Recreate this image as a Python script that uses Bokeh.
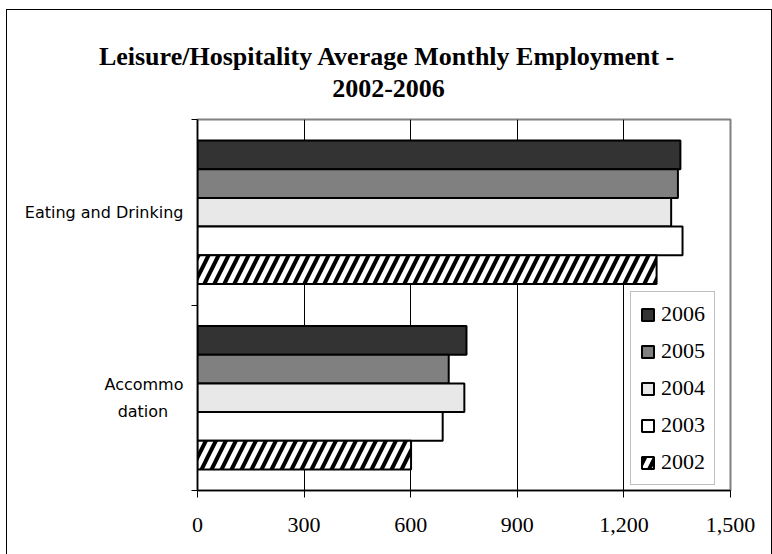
from bokeh.plotting import figure
from bokeh.models import (Range1d, FixedTicker, Legend, LegendItem, Title,
                          ColumnDataSource)
from bokeh.transform import dodge
from bokeh.embed import file_html
from bokeh.resources import INLINE

# ---------------- data ----------------
categories = ["Accommodation", "Eating and Drinking"]
category_labels = ["Accommo\ndation\u00a0\u00a0\u00a0", "Eating and Drinking"]
years = ["2006", "2005", "2004", "2003", "2002"]
values_2006 = [757, 1359]
values_2005 = [707, 1352]
values_2004 = [751, 1333]
values_2003 = [690, 1365]
values_2002 = [601, 1292]
x_ticks = [0, 300, 600, 900, 1200, 1500]
x_tick_labels = ["0", "300", "600", "900", "1,200", "1,500"]
title_line1 = "Leisure/Hospitality Average Monthly Employment -"
title_line2 = "2002-2006"

# ---------------- styles ----------------
fills = {"2006": "#333333", "2005": "#808080", "2004": "#e8e8e8",
         "2003": "#ffffff", "2002": "#ffffff"}
hatches = {"2006": None, "2005": None, "2004": None, "2003": None, "2002": "/"}
SERIF = "Liberation Serif"
SANS = "DejaVu Sans"

n = len(categories)
centers = [i + 0.5 for i in range(n)]
source = ColumnDataSource(data={
    "cat": categories, "pos": centers,
    "2006": values_2006, "2005": values_2005, "2004": values_2004,
    "2003": values_2003, "2002": values_2002,
})

border_css = """
:host::after {
  content: "";
  position: absolute;
  left: 6px; top: 9px; right: 0px; bottom: -20px;
  border: 1.5px solid black;
  pointer-events: none;
}
"""

p = figure(width=772, height=554, output_backend="svg", toolbar_location=None,
           y_range=Range1d(0, n), x_range=Range1d(x_ticks[0], x_ticks[-1]),
           min_border_left=197, min_border_right=42, min_border_top=119,
           min_border_bottom=64)
p.stylesheets = [border_css]
p.background_fill_color = "white"
p.border_fill_color = "white"
p.outline_line_color = "#808080"
p.outline_line_width = 2

# x axis
xt = FixedTicker(ticks=x_ticks)
p.xaxis.ticker = xt
p.xaxis.major_label_overrides = {t: l for t, l in zip(x_ticks, x_tick_labels)}
p.xaxis.axis_line_color = "black"
p.xaxis.axis_line_width = 1.5
p.xaxis.major_tick_line_color = "black"
p.xaxis.major_tick_out = 7
p.xaxis.major_tick_in = 0
p.xaxis.minor_tick_line_color = None
p.xaxis.major_label_text_font = SERIF
p.xaxis.major_label_text_font_size = "22px"
p.xaxis.major_label_text_color = "black"
p.xaxis.major_label_standoff = 20
p.xgrid.ticker = xt
p.xgrid.grid_line_color = "black"
p.xgrid.grid_line_width = 1
p.ygrid.visible = False

# y axis: category bands (labels at band centres, ticks at band boundaries)
yaxis = p.yaxis[0]
yaxis.ticker = FixedTicker(ticks=centers, minor_ticks=list(range(n + 1)))
yaxis.major_label_overrides = {c: category_labels[i] for i, c in enumerate(centers)}
yaxis.axis_line_color = "black"
yaxis.axis_line_width = 1.5
yaxis.major_tick_line_color = None
yaxis.major_tick_out = 6
yaxis.major_tick_in = 0
yaxis.minor_tick_line_color = "black"
yaxis.minor_tick_out = 6
yaxis.minor_tick_in = 0
yaxis.major_label_text_font = SANS
yaxis.major_label_text_font_size = "16px"
yaxis.major_label_text_color = "black"
yaxis.major_label_text_line_height = 1.4
yaxis.major_label_standoff = 8

# bars
bar_h = 0.1546
renderers = {}
for k, yr in enumerate(years):
    off = (2 - k) * bar_h
    kw = {}
    if hatches[yr]:
        kw = dict(hatch_pattern=hatches[yr], hatch_color="black",
                  hatch_weight=4, hatch_scale=20)
    r = p.hbar(y=dodge("pos", off), left=0, right=yr,
               height=bar_h, source=source, fill_color=fills[yr],
               line_color="black", line_width=2, **kw)
    renderers[yr] = r

legend = Legend(items=[LegendItem(label=yr, renderers=[renderers[yr]]) for yr in years],
                location=(433, 5))
legend.label_text_font = SERIF
legend.label_text_font_size = "22px"
legend.label_text_color = "black"
legend.glyph_width = 15
legend.glyph_height = 15
legend.label_standoff = 6
legend.label_height = 22
legend.spacing = 11
legend.padding = 9
legend.margin = 0
legend.border_line_color = "#808080"
legend.border_line_width = 1.5
legend.background_fill_color = "white"
legend.background_fill_alpha = 1
p.add_layout(legend)

# spacer between the frame and the title block
p.add_layout(Title(text="\u00a0", standoff=4, text_font_size="12px"), "above")
# two-line title, centred on the whole chart (nearest line added first)
for txt, off, so in [(title_line2, 134.7, 6), (title_line1, -98.6, 8)]:
    p.add_layout(Title(text=txt, align="left", offset=off, standoff=so,
                       text_font=SERIF, text_font_style="bold",
                       text_font_size="26px", text_color="black"), "above")

open("out.html", "w").write(file_html(p, INLINE))
